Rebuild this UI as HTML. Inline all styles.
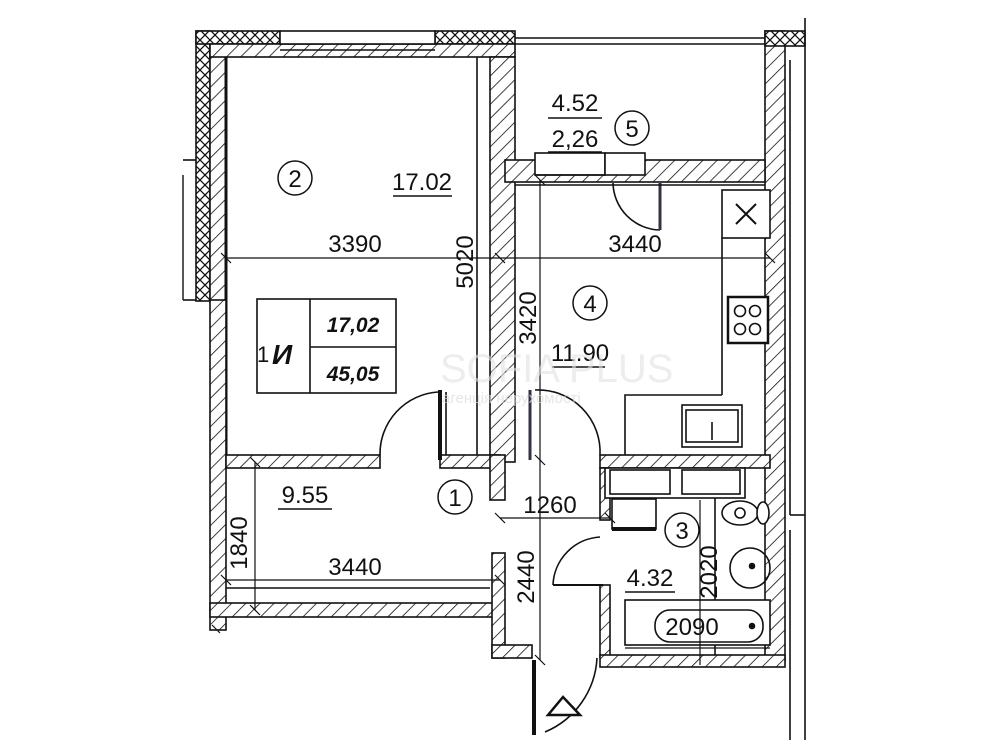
<!DOCTYPE html>
<html><head><meta charset="utf-8"><style>
html,body{margin:0;padding:0;background:#fff}
svg{display:block}
text{font-family:"Liberation Sans Narrow","Liberation Sans",sans-serif;fill:#111}
</style></head><body>
<svg width="1000" height="750" viewBox="0 0 1000 750" xmlns="http://www.w3.org/2000/svg">
<defs>
<pattern id="h" width="10" height="10" patternUnits="userSpaceOnUse" patternTransform="rotate(45)">
<rect width="10" height="10" fill="#fff"/><line x1="0" y1="0" x2="0" y2="10" stroke="#111" stroke-width="1.6"/>
</pattern>
<pattern id="x" width="10" height="10" patternUnits="userSpaceOnUse">
<rect width="10" height="10" fill="#fff"/><path d="M0 0L10 10M10 0L0 10" stroke="#111" stroke-width="1.3"/>
</pattern>
</defs>
<g stroke="#111" stroke-width="1.6">
<rect x="196" y="31" width="14" height="270" fill="url(#x)"/>
<rect x="210" y="44" width="16" height="258" fill="url(#h)"/>
<line x1="226" y1="55" x2="226" y2="455" stroke-width="3"/>
<rect x="196" y="31" width="84" height="13" fill="url(#x)"/>
<rect x="435" y="31" width="80" height="13" fill="url(#x)"/>
<rect x="210" y="44" width="305" height="13" fill="url(#h)"/>
<rect x="280" y="31" width="155" height="13" fill="#fff"/>
<line x1="280" y1="50" x2="435" y2="50"/>
<rect x="210" y="300" width="16" height="330" fill="url(#h)"/>
<line x1="183" y1="175" x2="183" y2="300" stroke-width="1.4"/>
<line x1="183" y1="160" x2="196" y2="160"/>
<line x1="183" y1="300" x2="196" y2="300"/>
<rect x="490" y="57" width="25" height="405" fill="url(#h)"/>
<line x1="477" y1="57" x2="477" y2="458"/>
<line x1="515" y1="38" x2="765" y2="38"/>
<line x1="515" y1="44" x2="765" y2="44"/>
<rect x="765" y="31" width="20" height="630" fill="url(#h)"/>
<rect x="765" y="31" width="40" height="15" fill="url(#x)"/>
<line x1="805" y1="18" x2="805" y2="740"/>
<line x1="790" y1="60" x2="790" y2="515"/>
<line x1="790" y1="530" x2="790" y2="740"/>
<line x1="790" y1="515" x2="805" y2="515"/>
<rect x="505" y="160" width="260" height="22" fill="url(#h)"/>
<rect x="535" y="153" width="70" height="22" fill="#fff"/>
<rect x="605" y="153" width="40" height="22" fill="#fff"/>
<line x1="535" y1="175" x2="605" y2="175"/>
<path d="M613 183 A48 48 0 0 0 660 230" fill="none"/>
<line x1="660" y1="183" x2="660" y2="230" stroke="#334" stroke-width="3"/>
<line x1="515" y1="185" x2="765" y2="185"/>
<rect x="226" y="455" width="154" height="13" fill="url(#h)"/>
<rect x="440" y="455" width="60" height="13" fill="url(#h)"/>
<rect x="490" y="455" width="15" height="45" fill="url(#h)"/>
<rect x="600" y="455" width="170" height="13" fill="url(#h)"/>
<path d="M380 455 A62 62 0 0 1 438 392" fill="none"/>
<line x1="440" y1="390" x2="440" y2="460" stroke-width="4"/>
<line x1="446" y1="392" x2="446" y2="455"/>
<path d="M535 390 A62 62 0 0 1 600 455" fill="none"/>
<line x1="530" y1="390" x2="530" y2="460" stroke="#334" stroke-width="3"/>
<rect x="210" y="603" width="290" height="14" fill="url(#h)"/>
<line x1="226" y1="588" x2="490" y2="588"/>
<rect x="492" y="553" width="13" height="105" fill="url(#h)"/>
<rect x="492" y="645" width="40" height="13" fill="url(#h)"/>
<rect x="600" y="468" width="10" height="52" fill="url(#h)"/>
<rect x="600" y="585" width="10" height="72" fill="url(#h)"/>
<rect x="600" y="655" width="185" height="12" fill="url(#h)"/>
<path d="M553 585 A50 50 0 0 1 600 537" fill="none"/>
<line x1="553" y1="585" x2="603" y2="585" stroke-width="2"/>
<line x1="534" y1="660" x2="534" y2="735" stroke-width="4"/>
<path d="M597 658 A85 85 0 0 1 545 732" fill="none"/>
<path d="M548 715 L563 697 L580 715 Z" fill="#fff" stroke-width="2.5"/>
<rect x="722" y="190" width="48" height="48" fill="#fff"/>
<path d="M736 204L756 224M756 204L736 224" stroke-width="2"/>
<line x1="722" y1="238" x2="722" y2="395"/>
<rect x="728" y="297" width="40" height="46" fill="#fff" stroke-width="2.5"/>
<circle cx="740" cy="311" r="5.5" fill="none"/><circle cx="755" cy="311" r="5.5" fill="none"/>
<circle cx="740" cy="329" r="5.5" fill="none"/><circle cx="755" cy="329" r="5.5" fill="none"/>
<polyline points="722,395 625,395 625,455" fill="none"/>
<rect x="682" y="405" width="60" height="42" fill="#fff"/>
<rect x="686" y="410" width="52" height="32" fill="none"/>
<line x1="712" y1="422" x2="712" y2="440"/>
<rect x="605" y="468" width="140" height="30" fill="#fff"/>
<rect x="610" y="470" width="60" height="24" fill="none"/>
<rect x="682" y="470" width="58" height="24" fill="none"/>
<rect x="612" y="499" width="44" height="30" fill="#fff"/>
<line x1="612" y1="529" x2="656" y2="529" stroke-width="4"/>
<line x1="715" y1="498" x2="715" y2="655"/>
<ellipse cx="740" cy="513" rx="18" ry="12" fill="#fff"/>
<circle cx="740" cy="513" r="5" fill="none"/>
<ellipse cx="763" cy="513" rx="6" ry="11" fill="#fff"/>
<circle cx="750" cy="568" r="20" fill="none"/>
<circle cx="752" cy="566" r="2.5" fill="#111"/>
<rect x="625" y="600" width="145" height="45" fill="#fff"/>
<rect x="655" y="610" width="108" height="32" rx="15" fill="none"/>
<circle cx="752" cy="626" r="2.5" fill="#111"/>
<g stroke-width="1.2">
<line x1="226" y1="258" x2="770" y2="258"/>
<line x1="540" y1="180" x2="540" y2="660"/>
<line x1="500" y1="518" x2="610" y2="518"/>
<line x1="255" y1="462" x2="255" y2="610"/>
<line x1="226" y1="580" x2="500" y2="580"/>
<line x1="700" y1="500" x2="700" y2="665"/>
<line x1="625" y1="648" x2="770" y2="648"/>
<path d="M221 253l10 10M495 253l10 10M765 253l10 10M535 175l10 10M535 455l10 10M535 655l10 10M495 513l10 10M605 513l10 10M250 457l10 10M250 605l10 10M221 575l10 10M495 575l10 10M212 625l8 8"/>
</g>
</g>
<g font-size="24">
<circle cx="295" cy="178" r="17" fill="none" stroke="#111" stroke-width="1.5"/>
<text x="295" y="187" text-anchor="middle">2</text>
<text x="422" y="190" text-anchor="middle">17.02</text>
<line x1="393" y1="196" x2="452" y2="196" stroke="#111" stroke-width="1.5"/>
<text x="575" y="111" text-anchor="middle">4.52</text>
<line x1="548" y1="118" x2="602" y2="118" stroke="#111" stroke-width="1.5"/>
<text x="575" y="147" text-anchor="middle">2,26</text>
<line x1="548" y1="152" x2="602" y2="152" stroke="#111" stroke-width="1.5"/>
<circle cx="632" cy="128" r="17" fill="none" stroke="#111" stroke-width="1.5"/>
<text x="632" y="137" text-anchor="middle">5</text>
<text x="355" y="252" text-anchor="middle">3390</text>
<text x="635" y="252" text-anchor="middle">3440</text>
<text transform="translate(473,262) rotate(-90)" text-anchor="middle">5020</text>
<text transform="translate(536,318) rotate(-90)" text-anchor="middle">3420</text>
<circle cx="590" cy="303" r="17" fill="none" stroke="#111" stroke-width="1.5"/>
<text x="590" y="312" text-anchor="middle">4</text>
<text x="580" y="361" text-anchor="middle">11.90</text>
<line x1="552" y1="367" x2="605" y2="367" stroke="#111" stroke-width="1.5"/>
<text x="305" y="503" text-anchor="middle">9.55</text>
<line x1="278" y1="509" x2="332" y2="509" stroke="#111" stroke-width="1.5"/>
<circle cx="455" cy="497" r="17" fill="none" stroke="#111" stroke-width="1.5"/>
<text x="455" y="506" text-anchor="middle">1</text>
<text x="550" y="513" text-anchor="middle">1260</text>
<text transform="translate(247,543) rotate(-90)" text-anchor="middle">1840</text>
<text x="355" y="575" text-anchor="middle">3440</text>
<text transform="translate(534,577) rotate(-90)" text-anchor="middle">2440</text>
<circle cx="682" cy="530" r="17" fill="none" stroke="#111" stroke-width="1.5"/>
<text x="682" y="539" text-anchor="middle">3</text>
<text x="650" y="586" text-anchor="middle">4.32</text>
<line x1="625" y1="592" x2="675" y2="592" stroke="#111" stroke-width="1.5"/>
<text transform="translate(717,572) rotate(-90)" text-anchor="middle">2020</text>
<text x="692" y="635" text-anchor="middle">2090</text>
</g>
<g stroke="#111" stroke-width="1.6" fill="none">
<rect x="257" y="299" width="139" height="94"/>
<line x1="310" y1="299" x2="310" y2="393"/>
<line x1="310" y1="347" x2="396" y2="347"/>
</g>
<text x="257" y="362" font-size="22">1</text>
<text x="272" y="364" font-size="28" font-style="italic" font-weight="bold">И</text>
<text x="353" y="332" font-size="21" font-style="italic" font-weight="bold" text-anchor="middle">17,02</text>
<text x="353" y="381" font-size="21" font-style="italic" font-weight="bold" text-anchor="middle">45,05</text>
<text x="440" y="382" font-size="40" style="fill:#e2e2e2;opacity:.6">SOFIA PLUS</text>
<text x="442" y="403" font-size="15" style="fill:#dcdcdc;opacity:.7">агенція нерухомості</text>
</svg>
</body></html>
